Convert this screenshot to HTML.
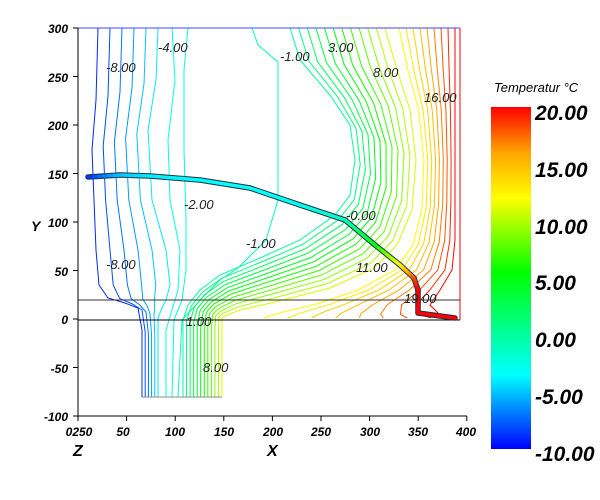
<!DOCTYPE html>
<html><head><meta charset="utf-8"><style>
body{margin:0;background:#fff;}
svg{display:block;font-family:"Liberation Sans",sans-serif;}
.t{font-weight:bold;font-style:italic;font-size:12px;fill:#000;}
.c{font-style:italic;font-size:13px;fill:#222;}
.cb{font-weight:bold;font-style:italic;font-size:21px;fill:#000;}
</style></head><body>
<svg id="s" width="600" height="500" viewBox="0 0 600 500" xmlns="http://www.w3.org/2000/svg">
<defs>
<linearGradient id="cbg" x1="0" y1="1" x2="0" y2="0">
<stop offset="0" stop-color="#0000ff"/>
<stop offset="0.217" stop-color="#00ffff"/>
<stop offset="0.517" stop-color="#00ff00"/>
<stop offset="0.733" stop-color="#ffff00"/>
<stop offset="0.867" stop-color="#ffa500"/>
<stop offset="1" stop-color="#ff0000"/>
</linearGradient>
</defs>
<g id="cont" fill="none" stroke-width="1"></g>
<g id="frame" fill="none" stroke-width="1">
<line x1="78" y1="28" x2="460" y2="28" stroke="#44f"/>
<line x1="460" y1="28" x2="460" y2="320" stroke="#f00"/>
<line x1="78" y1="300" x2="460" y2="300" stroke="#333"/>
<line x1="78" y1="320" x2="460" y2="320" stroke="#000"/>
<line x1="142" y1="397" x2="222" y2="397" stroke="#888"/>
<line x1="78" y1="28" x2="78" y2="416" stroke="#000"/>
<line x1="78" y1="416" x2="467" y2="416" stroke="#000"/>
</g>
<g id="pipe" fill="none" stroke-linecap="round" stroke-linejoin="round"></g>
<g id="ticks" stroke="#000"></g>
<g class="c">
<text x="158" y="52">-4.00</text><text x="106" y="72">-8.00</text>
<text x="280" y="61">-1.00</text><text x="328" y="52">3.00</text>
<text x="373" y="77">8.00</text><text x="424" y="102">16.00</text>
<text x="184" y="209">-2.00</text><text x="346" y="220">-0.00</text>
<text x="246" y="248">-1.00</text><text x="106" y="269">-8.00</text>
<text x="356" y="272">11.00</text><text x="404" y="303">19.00</text>
<text x="186" y="326">1.00</text><text x="203" y="372">8.00</text>
</g>
<g class="t" text-anchor="end">
<text x="68" y="33">300</text><text x="68" y="82">250</text><text x="68" y="130">200</text>
<text x="68" y="179">150</text><text x="68" y="227">100</text><text x="68" y="276">50</text>
<text x="68" y="324">0</text><text x="68" y="373">-50</text><text x="68" y="421">-100</text>
</g>
<g class="t" text-anchor="middle">
<text x="79" y="436">0250</text><text x="123" y="436">50</text><text x="175" y="436">100</text>
<text x="224" y="436">150</text><text x="273" y="436">200</text><text x="321" y="436">250</text>
<text x="370" y="436">300</text><text x="418" y="436">350</text><text x="466" y="436">400</text>
</g>
<text x="73" y="456" style="font-weight:bold;font-style:italic;font-size:16px">Z</text>
<text x="267" y="456" style="font-weight:bold;font-style:italic;font-size:16px">X</text>
<text x="31" y="231" style="font-weight:bold;font-style:italic;font-size:14px">Y</text>
<text x="494" y="92" style="font-style:italic;font-size:13px">Temperatur °C</text>
<rect x="491" y="107" width="40" height="342" fill="url(#cbg)"/>
<g class="cb">
<text x="535" y="120">20.00</text><text x="535" y="177">15.00</text><text x="535" y="234">10.00</text>
<text x="535" y="290">5.00</text><text x="535" y="347">0.00</text><text x="535" y="404">-5.00</text>
<text x="535" y="461">-10.00</text>
</g>
</svg>
<script>
var NS="http://www.w3.org/2000/svg";
var stops=[[-10,[0,0,255]],[-3.5,[0,255,255]],[5.5,[0,255,0]],[12,[255,255,0]],[16,[255,165,0]],[20,[255,0,0]]];
function col(v){if(v<=-10)return"rgb(0,0,255)";for(var i=1;i<stops.length;i++){if(v<=stops[i][0]){var a=stops[i-1],b=stops[i],t=(v-a[0])/(b[0]-a[0]);return"rgb("+[0,1,2].map(function(k){return Math.round(a[1][k]+(b[1][k]-a[1][k])*t)}).join(",")+")";}}return"rgb(255,0,0)";}
function lerp(A,B,t){return A.map(function(p,i){return[p[0]+(B[i][0]-p[0])*t,p[1]+(B[i][1]-p[1])*t]});}
var g=document.getElementById("cont");
function pl(pts,c,w){var e=document.createElementNS(NS,"polyline");e.setAttribute("points",pts.map(function(p){return p[0].toFixed(1)+","+p[1].toFixed(1)}).join(" "));e.setAttribute("stroke",c);if(w)e.setAttribute("stroke-width",w);g.appendChild(e);}
var L0=[[98,28],[96,100],[92,150],[94,200],[96,250],[99,285],[108,298],[125,303],[138,308],[142,330],[142,397]];
var L1=[[158,28],[156,80],[148,130],[152,200],[166,250],[170,285],[166,300],[162,308],[158,318],[158,340],[158,397]];
for(var v=-9;v<=-4;v+=1){pl(lerp(L0,L1,(v+9)/5),col(v));}
pl([[172,28],[175,80],[168,140],[170,200],[180,250],[178,290],[172,310],[166,330],[166,397]],col(-3));
pl([[188,28],[184,70],[184,150],[186,220],[186,270],[182,300],[174,320],[172,397]],col(-2));
pl([[252,28],[258,45],[278,62],[278,120],[278,200],[266,240],[238,268],[220,280],[205,295],[182,320],[178,397]],col(-1));
var R0=[[290,28],[300,60],[330,95],[350,125],[355,160],[350,195],[335,215],[300,240],[260,258],[220,275],[200,290],[188,305],[183,320],[183,397]];
var R1=[[385,28],[397,70],[410,110],[416,160],[412,210],[397,245],[374,268],[330,288],[275,302],[240,310],[225,316],[222,318],[222,330],[222,397]];
for(var v=0;v<=11;v+=1){pl(lerp(R0,R1,v/11),col(v));}
var Q0=[[392,28],[402,70],[414,110],[420,160],[418,210],[408,245],[388,270],[348,290],[302,304],[262,312],[240,318]];
var Q1=[[455,28],[455,70],[455,110],[455,160],[455,200],[455,240],[452,270],[440,290],[430,305],[440,315],[455,318]];
for(var v=12;v<=20;v+=1){pl(lerp(Q0,Q1,(v-11)/9),col(v));}
var P=[[88,177],[120,175],[150,176],[200,180],[250,188],[300,205],[345,220],[375,245],[400,265],[414,278],[418,290],[418,313],[455,318]];
var PV=[-9,-5,-4,-3.6,-3.4,-3,-1.5,5,12,18,20,20,20];
var pg=document.getElementById("pipe");
function seg(a,b,c,w){var e=document.createElementNS(NS,"line");e.setAttribute("x1",a[0]);e.setAttribute("y1",a[1]);e.setAttribute("x2",b[0]);e.setAttribute("y2",b[1]);e.setAttribute("stroke",c);e.setAttribute("stroke-width",w);e.setAttribute("stroke-linecap","round");pg.appendChild(e);}
for(var i=0;i<P.length-1;i++)seg(P[i],P[i+1],"#234",5.5);
for(var i=0;i<P.length-1;i++){var n=6;for(var k=0;k<n;k++){var a=[P[i][0]+(P[i+1][0]-P[i][0])*k/n,P[i][1]+(P[i+1][1]-P[i][1])*k/n],b=[P[i][0]+(P[i+1][0]-P[i][0])*(k+1)/n,P[i][1]+(P[i+1][1]-P[i][1])*(k+1)/n];seg(a,b,col(PV[i]+(PV[i+1]-PV[i])*(k+0.5)/n),3.5);}}
var tg=document.getElementById("ticks");
for(var i=0;i<=8;i++){var y=28+i*48.5;var e=document.createElementNS(NS,"line");e.setAttribute("x1",73);e.setAttribute("x2",78);e.setAttribute("y1",y);e.setAttribute("y2",y);tg.appendChild(e);
var x=78+i*48.6;e=document.createElementNS(NS,"line");e.setAttribute("x1",x);e.setAttribute("x2",x);e.setAttribute("y1",416);e.setAttribute("y2",421);tg.appendChild(e);}
</script>
</body></html>
